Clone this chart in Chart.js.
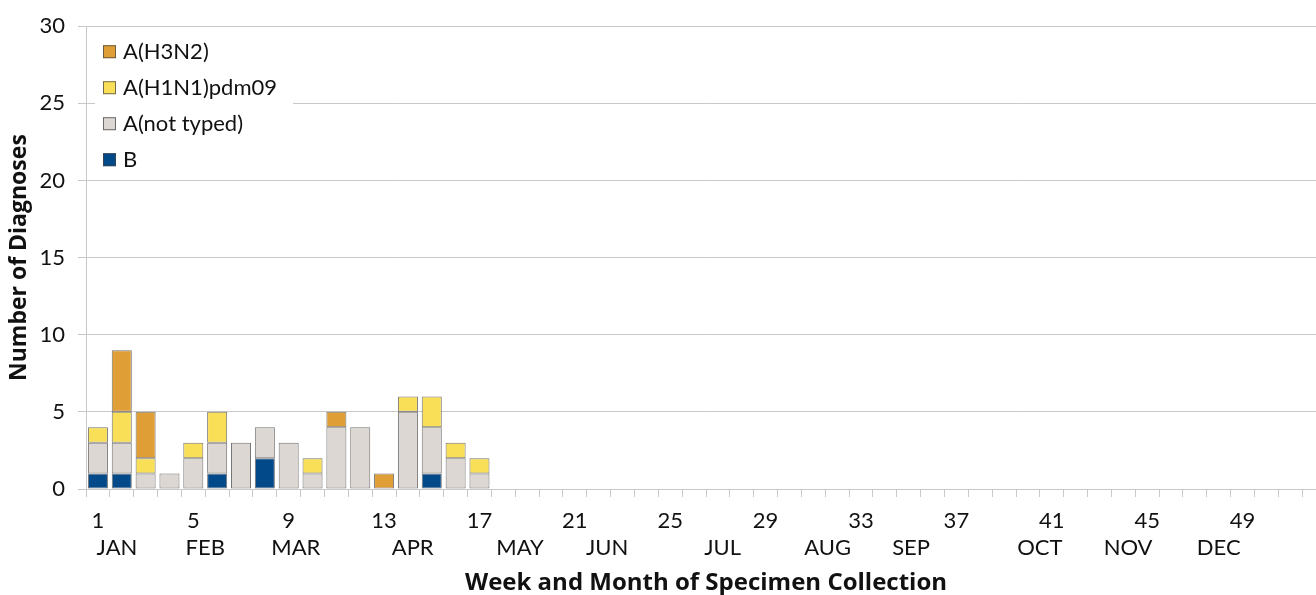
<html>

<head>
  <script src="https://cdn.jsdelivr.net/npm/chart.js"></script>
  <title>Influenza diagnoses by week</title>
</head>

<body style="margin:0;overflow:hidden;background:#fff;">

  <canvas id="myChart" width="1328" height="595"></canvas>

  <script>
    // 주차 (카테고리)
    const weeks = [
      "1", "2", "3", "4", "5", "6", "7", "8", "9", "10", "11", "12", "13",
      "14", "15", "16", "17", "18", "19", "20", "21", "22", "23", "24", "25", "26",
      "27", "28", "29", "30", "31", "32", "33", "34", "35", "36", "37", "38", "39",
      "40", "41", "42", "43", "44", "45", "46", "47", "48", "49", "50", "51", "52",
    ];
    // 월 라벨과 그 위치 (주 단위)
    const monthLabels = ["JAN", "FEB", "MAR", "APR", "MAY", "JUN", "JUL", "AUG", "SEP", "OCT", "NOV", "DEC"];
    const monthWeeks = [1.8, 5.5, 9.3, 14.2, 18.7, 22.35, 27.2, 31.6, 35.1, 40.5, 44.2, 48.0];

    // 시리즈 (1~17주), 0 은 null
    const seriesB = [1, 1, null, null, null, 1, null, 2, null, null, null, null, null, null, 1, null, null];
    const seriesNotTyped = [2, 2, 1, 1, 2, 2, 3, 2, 3, 1, 4, 4, null, 5, 3, 2, 1];
    const seriesH1N1 = [1, 2, 1, null, 1, 2, null, null, null, 1, null, null, null, 1, 2, 1, 1];
    const seriesH3N2 = [null, 4, 3, null, null, null, null, null, null, null, 1, null, 1, null, null, null, null];

    const yTicks = [0, 5, 10, 15, 20, 25, 30];

    const colors = {
      h3n2: "#DF9E36",
      h1n1: "#F9DF57",
      notTyped: "#DCD7D2",
      b: "#02498A",
    };
    const outline = "rgba(70,70,70,0.75)";
    const fontFamily = "Lato, 'DejaVu Sans', sans-serif";
    const titleFamily = "'Open Sans', Lato, sans-serif";
    const gridColor = "#c8c8c8";

    // 차트 안쪽 범례
    const legendItems = [
      { label: "A(H3N2)", color: colors.h3n2 },
      { label: "A(H1N1)pdm09", color: colors.h1n1 },
      { label: "A(not typed)", color: colors.notTyped },
      { label: "B", color: colors.b },
    ];
    const insideLegend = {
      id: "insideLegend",
      afterDatasetsDraw: (chart) => {
        const { ctx, chartArea } = chart;
        const x0 = chartArea.left + 9;
        const y0 = chartArea.top + 8;
        ctx.save();
        ctx.fillStyle = "#ffffff";
        ctx.fillRect(x0, y0, 198, 142);
        ctx.font = "22px " + fontFamily;
        ctx.textBaseline = "middle";
        legendItems.forEach((item, i) => {
          const cy = y0 + 17 + i * 36;
          ctx.fillStyle = item.color;
          ctx.fillRect(x0 + 8, cy - 6, 13, 13);
          ctx.strokeStyle = outline;
          ctx.lineWidth = 1;
          ctx.strokeRect(x0 + 8.5, cy - 5.5, 12, 12);
          ctx.fillStyle = "#111";
          ctx.fillText(item.label, x0 + 28, cy + 1);
        });
        ctx.restore();
      },
    };

    function barSet(label, data, color) {
      return {
        label: label,
        data: data,
        backgroundColor: color,
        borderColor: outline,
        borderWidth: 1,
        borderSkipped: false,
        barPercentage: 0.84,
        categoryPercentage: 1,
        xAxisID: "x",
      };
    }

    const ctx1 = document.getElementById("myChart").getContext("2d");
    const myChart1 = new Chart(ctx1, {
      type: "bar",
      data: {
        labels: weeks,
        datasets: [
          barSet("B", seriesB, colors.b),
          barSet("A(not typed)", seriesNotTyped, colors.notTyped),
          barSet("A(H1N1)pdm09", seriesH1N1, colors.h1n1),
          barSet("A(H3N2)", seriesH3N2, colors.h3n2),
        ],
      },
      options: {
        responsive: false,
        animation: false,
        layout: { padding: { top: 14, right: 2, left: 0, bottom: 0 } },
        scales: {
          x: {
            type: "category",
            stacked: true,
            weight: 0,
            grid: {
              offset: true,
              drawOnChartArea: false,
              drawTicks: true,
              tickLength: 8,
              color: gridColor,
            },
            border: { display: true, color: gridColor },
            ticks: {
              autoSkip: false,
              maxRotation: 0,
              padding: 11,
              color: "#111",
              font: { family: fontFamily, size: 22 },
              callback: function (value, index) {
                return index % 4 === 0 ? this.getLabelForValue(value) : "";
              },
            },
            afterFit: (s) => { s.height = 44; },
          },
          month: {
            type: "linear",
            position: "bottom",
            weight: 1,
            offset: false,
            min: 0.5,
            max: 52.5,
            grid: { display: false, drawTicks: false, offset: false },
            border: { display: false },
            afterBuildTicks: (s) => {
              s.ticks = monthWeeks.map((v) => ({ value: v }));
            },
            ticks: {
              autoSkip: false,
              maxRotation: 0,
              padding: 2,
              color: "#111",
              font: { family: fontFamily, size: 22 },
              callback: (value, index) => monthLabels[index],
            },
            title: {
              display: true,
              text: "Week and Month of Specimen Collection",
              color: "#111",
              font: { family: titleFamily, size: 24, weight: "bold" },
              padding: { top: 0, bottom: -3 },
            },
            afterFit: (s) => { s.height = 62; },
          },
          y: {
            stacked: true,
            min: 0,
            max: 30,
            afterBuildTicks: (s) => {
              s.ticks = yTicks.map((v) => ({ value: v }));
            },
            grid: { color: gridColor, tickLength: 8 },
            border: { color: gridColor },
            ticks: {
              padding: 13,
              color: "#111",
              font: { family: fontFamily, size: 22 },
            },
            title: {
              display: true,
              text: "Number of Diagnoses",
              color: "#111",
              font: { family: titleFamily, size: 23, weight: "bold" },
              padding: { top: 6, bottom: 0 },
            },
            afterFit: (s) => { s.width = 86; },
          },
        },
        plugins: {
          tooltip: { enabled: false },
          legend: { display: false },
        },
      },
      plugins: [insideLegend],
    });
  </script>
</body>

</html>
